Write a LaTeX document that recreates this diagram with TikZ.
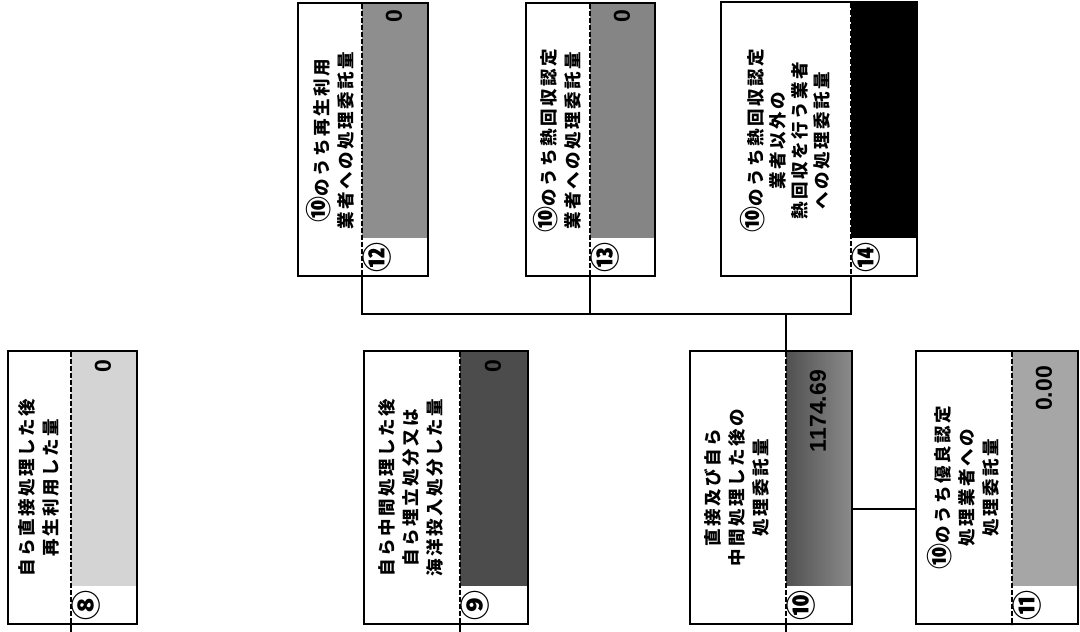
\documentclass[tikz,border=0pt]{standalone}
\usepackage{fontspec}
\newfontfamily\jp[LetterSpace=14]{Noto Sans CJK JP}
\newfontfamily\jpc{Noto Sans CJK JP}
\newfontfamily\numf{Liberation Sans}
\newcommand\tenc{{\jpc\fontsize{26}{24}\selectfont ⑩}}
\definecolor{g8}{HTML}{D4D4D4}
\definecolor{g9}{HTML}{4C4C4C}
\definecolor{g10a}{HTML}{505050}
\definecolor{g10b}{HTML}{8A8A8A}
\definecolor{g11}{HTML}{A6A6A6}
\definecolor{g12}{HTML}{8E8E8E}
\definecolor{g13}{HTML}{858585}
\newcommand\panel[9]{%
  \path[#8] (#3,#6) rectangle (#4,#5);
  \node[boxframe, anchor=south west, minimum width={#4-#2}, minimum height={#5-#7}] (#1) at (#2,#7) {};
  \coordinate (#1top) at (#3,#5);
  \coordinate (#1bot) at (#3,#7);
  \draw[sepline] (#1top) -- (#1bot);
  \node[circ] (#1n) at ({#3+15},{(#6+#7)/2}) {#9};
}
\begin{document}
\begin{tikzpicture}[x=1pt,y=1pt,
  boxframe/.style={draw=black, line width=2pt, inner sep=0pt},
  sepline/.style={line width=2pt, dash pattern=on 5pt off 2pt},
  link/.style={line width=1.8pt},
  lbl/.style={rotate=90, align=center, inner sep=0pt, font=\jp\bfseries\fontsize{17.5}{24}\selectfont},
  val/.style={rotate=90, anchor=east, inner sep=0pt, font=\numf\bfseries\fontsize{23}{23}\selectfont},
  circ/.style={rotate=90, inner sep=0pt, font=\jpc\bfseries\fontsize{30}{30}\selectfont}]
\useasboundingbox (0,0) rectangle (1080,632);
% bottom row
\panel{b8}{7}{71}{136}{280}{46}{7}{fill=g8}{⑧}
\panel{b9}{363}{460}{527}{280}{46}{7}{fill=g9}{⑨}
\panel{b10}{689}{786}{851}{280}{46}{7}{left color=g10a, right color=g10b}{⑩}
\panel{b11}{915}{1012}{1077}{280}{46}{7}{fill=g11}{⑪}
% top row
\panel{b12}{297}{362}{427}{628}{394}{355}{fill=g12}{⑫}
\panel{b13}{525}{590}{654}{628}{394}{355}{fill=g13}{⑬}
\panel{b14}{720}{851}{916}{629}{394}{355}{fill=black}{⑭}
% labels
\node[lbl] (t8) at (39,144) {自ら直接処理した後\\再生利用した量};
\node[lbl] (t9) at (411,144) {自ら中間処理した後\\自ら埋立処分又は\\海洋投入処分した量};
\node[lbl] (t10) at (737,144) {直接及び自ら\\中間処理した後の\\処理委託量};
\node[lbl] (t11) at (963,144) {\tenc のうち優良認定\\処理業者への\\処理委託量};
\node[lbl] (t12) at (330,491) {\tenc のうち再生利用\\業者への処理委託量};
\node[lbl] (t13) at (557,491) {\tenc のうち熱回収認定\\業者への処理委託量};
\node[lbl, font=\jp\bfseries\fontsize{17.5}{22}\selectfont] (t14) at (785,491) {\tenc のうち熱回収認定\\業者以外の\\熱回収を行う業者\\への処理委託量};
% values
\node[val] (v8) at (103,272) {0};
\node[val] (v9) at (493,272) {0};
\node[val] (v10) at (818,262) {1174.69};
\node[val] (v11) at (1044,266) {0.00};
\node[val] (v12) at (394,622) {0};
\node[val] (v13) at (622,622) {0};
% connectors
\coordinate (bus) at (0,318);
\coordinate (hl) at (0,123);
\draw[link] (b12bot) -- (b12bot |- bus) -- (b14bot |- bus) -- (b14bot);
\draw[link] (b13bot) -- (b13bot |- bus);
\draw[link] (b10top) -- (b10top |- bus);
\draw[link] (b10.east |- hl) -- (b11.west |- hl);
\coordinate (e8) at (71,0);
\coordinate (e9) at (460,0);
\coordinate (e10) at (786,0);
\draw[link] (b8bot) -- (e8);
\draw[link] (b9bot) -- (e9);
\draw[link] (b10bot) -- (e10);
\end{tikzpicture}
\end{document}
